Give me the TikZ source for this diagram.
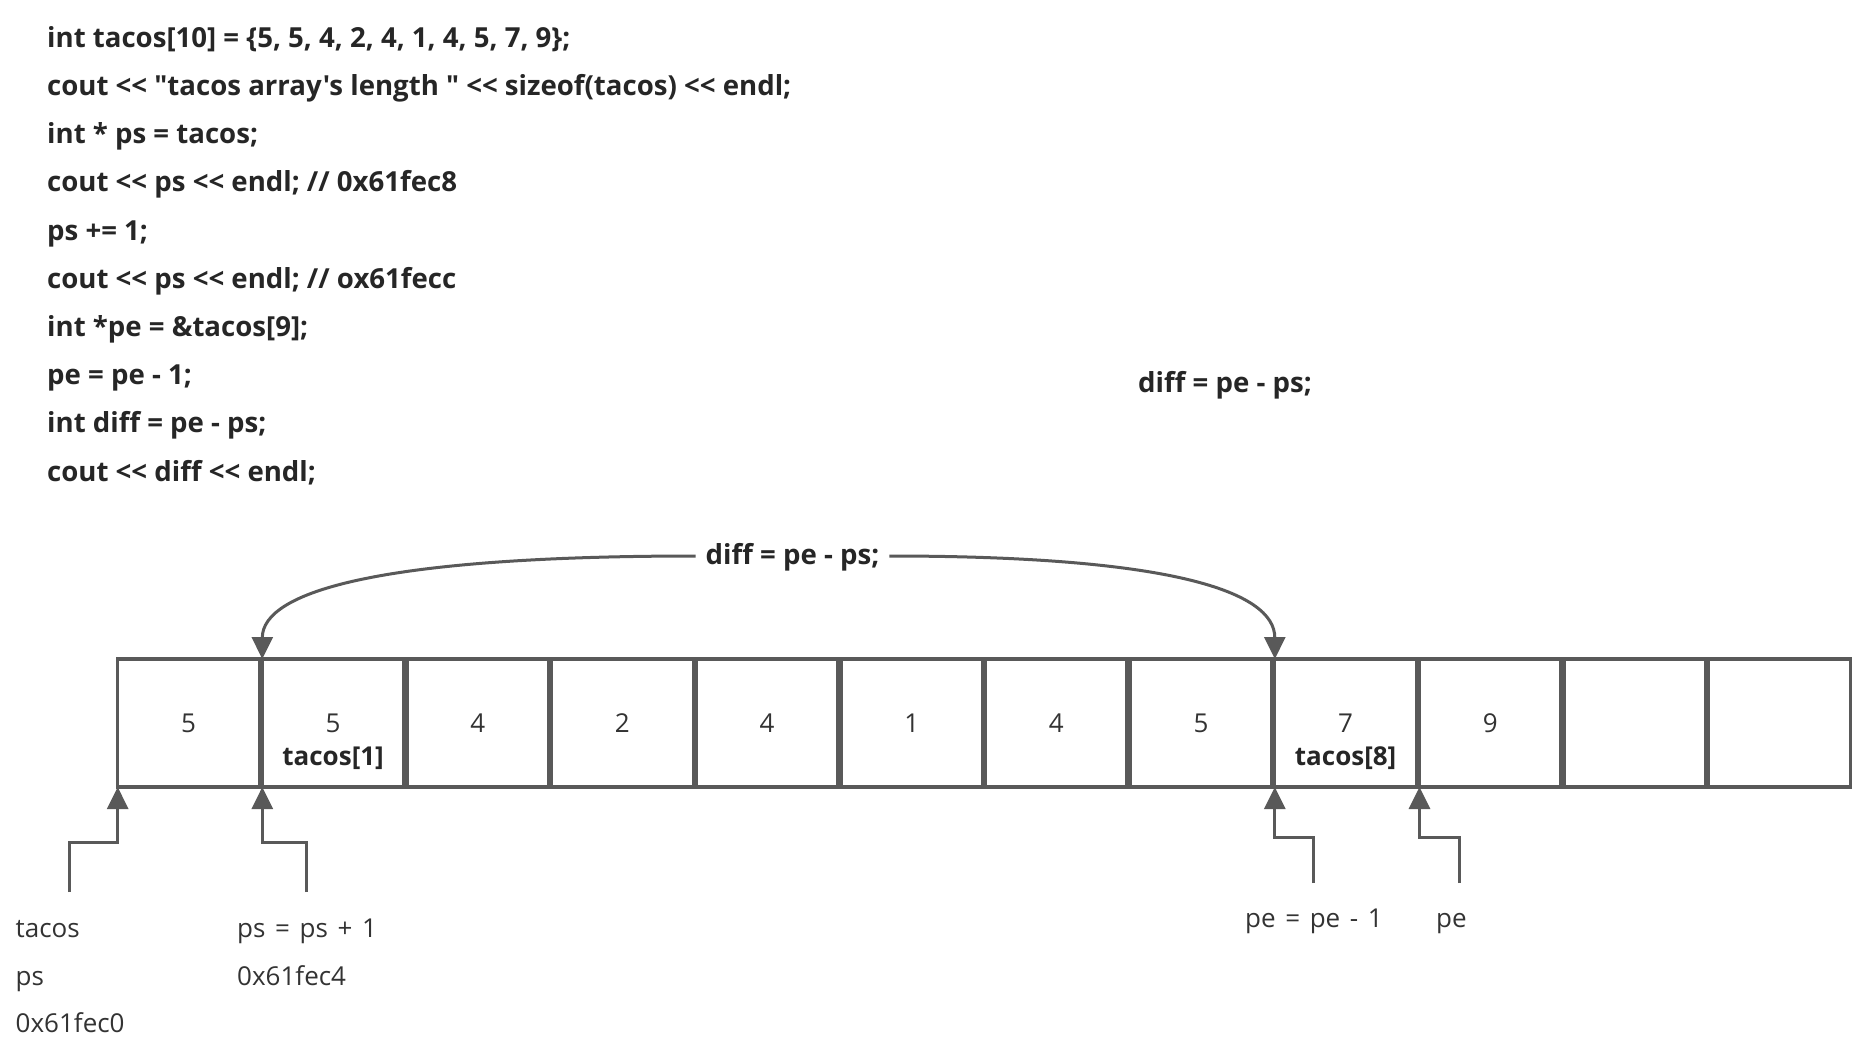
\documentclass[tikz,border=0pt]{standalone}
\usepackage{fontspec}
\setmainfont{Open Sans}[Ligatures=TeXOff]
\usetikzlibrary{arrows.meta}
\definecolor{ln}{HTML}{595959}
\definecolor{tx}{HTML}{262626}
\definecolor{tv}{HTML}{333333}
\begin{document}
\begin{tikzpicture}[x=1pt,y=-1pt,
  code/.style={anchor=west,inner sep=0pt,text=tx,font=\fontsize{27.6}{27}\selectfont\bfseries,text height=20pt,text depth=4pt},
  cell/.style={draw=ln,line width=3.3pt,minimum width=141.6pt,minimum height=128pt,inner sep=0pt,outer sep=0pt,text=tv,font=\fontsize{26}{26}\selectfont},
  idx/.style={inner sep=0pt,text=tx,font=\fontsize{26}{26}\selectfont\bfseries},
  lab/.style={anchor=west,inner sep=0pt,text=tv,font={\fontsize{26}{26}\selectfont\spaceskip=9.6pt\relax},text height=19pt,text depth=5pt},
  arr/.style={draw=ln,line width=3pt,-{Triangle[length=22pt,width=21pt]}},
  curv/.style={draw=ln,line width=3pt,-{Triangle[length=22pt,width=21pt]}}
]
\useasboundingbox (0,0) rectangle (1859,1062);
\fill[white] (0,0) rectangle (1859,1062);

% code listing
\node[code] (l1) at (47,39.2) {int tacos[10] = \{5, 5, 4, 2, 4, 1, 4, 5, 7, 9\};};
\node[code] (l2) at (47,87.4) {cout << "tacos array's length " << sizeof(tacos) << endl;};
\node[code] (l3) at (47,135.6) {int * ps = tacos;};
\node[code] (l4) at (47,183.8) {cout << ps << endl; // 0x61fec8};
\node[code] (l5) at (47,232.0) {ps += 1;};
\node[code] (l6) at (47,280.2) {cout << ps << endl; // ox61fecc};
\node[code] (l7) at (47,328.4) {int *pe = \&tacos[9];};
\node[code] (l8) at (47,376.6) {pe = pe - 1;};
\node[code] (l9) at (47,424.8) {int diff = pe - ps;};
\node[code] (l10) at (47,473.0) {cout << diff << endl;};

\node[code] (d2) at (1138,384.2) {diff = pe - ps;};

% array cells
\node[cell] (c0) at (188.5,723) {5};
\node[cell] (c1) at (333.1,723) {5};
\node[cell] (c2) at (477.8,723) {4};
\node[cell] (c3) at (622.4,723) {2};
\node[cell] (c4) at (767.1,723) {4};
\node[cell] (c5) at (911.7,723) {1};
\node[cell] (c6) at (1056.3,723) {4};
\node[cell] (c7) at (1201.0,723) {5};
\node[cell] (c8) at (1345.6,723) {7};
\node[cell] (c9) at (1490.3,723) {9};
\node[cell] (c10) at (1634.9,723) {};
\node[cell] (c11) at (1779.5,723) {};

\node[idx] (i1) at (333.1,758) {tacos[1]};
\node[idx] (i8) at (1345.6,758) {tacos[8]};

% curved diff arrows
\node[code,anchor=center,inner xsep=10pt] (dl) at (792.5,556) {diff = pe - ps;};
\draw[curv] (dl.west) .. controls +(-313,0) and +(0,-68) .. (c1.north west);
\draw[curv] (dl.east) .. controls +(280,0) and +(0,-68) .. (c8.north west);

% pointer arrows
\coordinate (ta) at (69,892);
\coordinate (pa) at (306.7,892);
\coordinate (ea) at (1313,883);
\coordinate (eb) at (1459,883);
\draw[arr] (ta) -- ++(0,-50) -| (c0.south west);
\draw[arr] (pa) -- ++(0,-50) -| (c1.south west);
\draw[arr] (ea) -- ++(0,-46) -| (c8.south west);
\draw[arr] (eb) -- ++(0,-46) -| (c9.south west);

% labels
\node[lab] (t1) at (15.5,930) {tacos};
\node[lab] (t2) at (15.5,978.5) {ps};
\node[lab] (t3) at (15.5,1025.5) {0x61fec0};
\node[lab] (p1) at (237,930) {ps = ps + 1};
\node[lab] (p2) at (237,978.5) {0x61fec4};
\node[lab] (e1) at (1245,920) {pe = pe - 1};
\node[lab] (e2) at (1436,920) {pe};
\end{tikzpicture}
\end{document}
